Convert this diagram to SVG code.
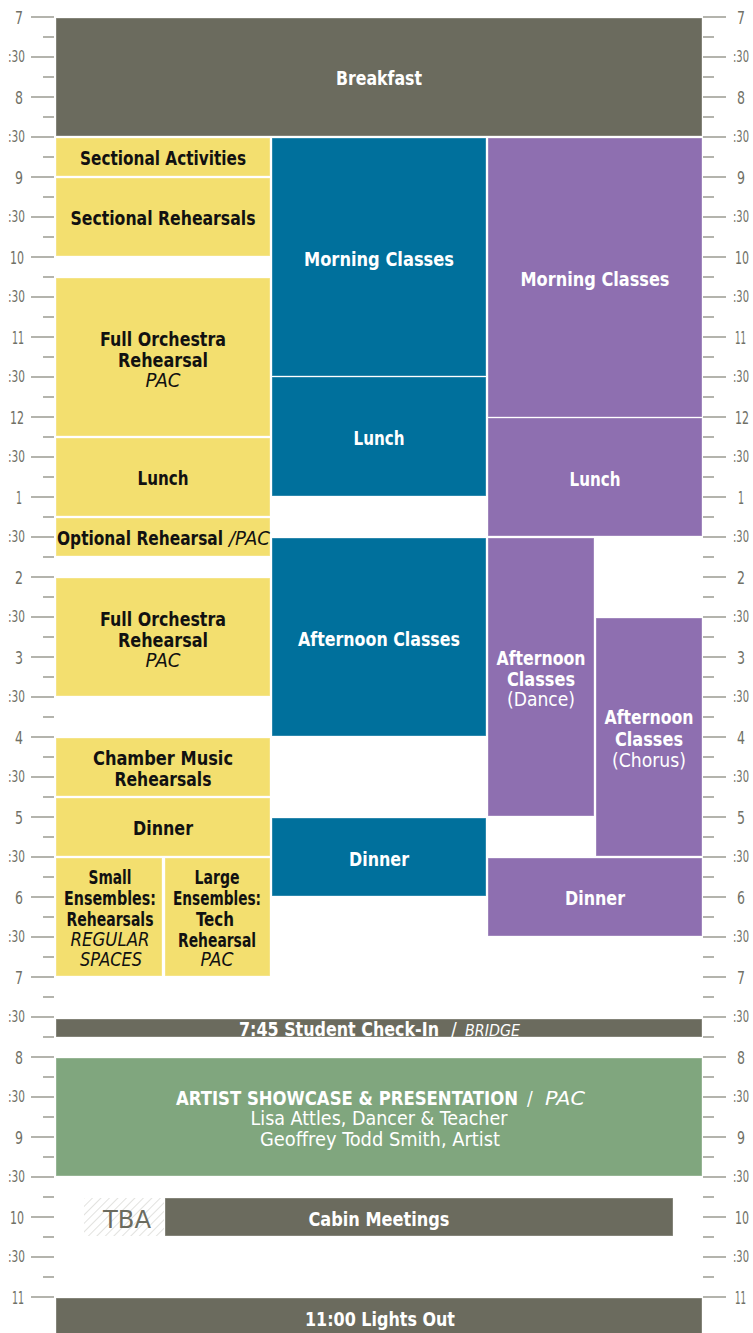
<svg xmlns="http://www.w3.org/2000/svg" width="753" height="1333" viewBox="0 0 753 1333">
<style>
.ax{font-family:"Liberation Sans Narrow","DejaVu Sans Condensed","Liberation Sans",sans-serif;fill:#707066;}
.h{font-size:18px;}
.m{font-size:15px;}
.tick{stroke:#9c9c93;stroke-width:1.5;fill:none;}
.blk{stroke:#ffffff;stroke-opacity:0.35;stroke-width:1;}
.gray{fill:#6b6b5e;}
.yel{fill:#f3df6f;}
.teal{fill:#00709c;}
.pur{fill:#8e6fb0;}
.grn{fill:#80a67e;}
.t{font-family:"Liberation Sans Narrow","DejaVu Sans Condensed","Liberation Sans",sans-serif;font-weight:bold;font-size:19px;text-anchor:middle;}
.w{fill:#ffffff;}
.k{fill:#111111;}
.i{font-weight:normal;font-style:italic;}
.l{font-weight:normal;}
</style>
<defs>
<pattern id="hatch" width="6" height="6" patternUnits="userSpaceOnUse" patternTransform="rotate(45)">
<line x1="0" y1="0" x2="0" y2="6" stroke="#cfcfca" stroke-width="1.2"/>
</pattern>
</defs>
<rect x="0" y="0" width="753" height="1333" fill="#ffffff"/>
<g id="axis">
<path class="tick" d="M31 17H54M31 57H54M31 97H54M31 137H54M31 177H54M31 217H54M31 257H54M31 297H54M31 337H54M31 377H54M31 417H54M31 457H54M31 497H54M31 537H54M31 577H54M31 617H54M31 657H54M31 697H54M31 737H54M31 777H54M31 817H54M31 857H54M31 897H54M31 937H54M31 977H54M31 1017H54M31 1057H54M31 1097H54M31 1137H54M31 1177H54M31 1217H54M31 1257H54M31 1297H54"/>
<path class="tick" d="M43 37H54M43 77H54M43 117H54M43 157H54M43 197H54M43 237H54M43 277H54M43 317H54M43 357H54M43 397H54M43 437H54M43 477H54M43 517H54M43 557H54M43 597H54M43 637H54M43 677H54M43 717H54M43 757H54M43 797H54M43 837H54M43 877H54M43 917H54M43 957H54M43 997H54M43 1037H54M43 1077H54M43 1117H54M43 1157H54M43 1197H54M43 1237H54M43 1277H54"/>
<path class="tick" d="M703 17H726M703 57H726M703 97H726M703 137H726M703 177H726M703 217H726M703 257H726M703 297H726M703 337H726M703 377H726M703 417H726M703 457H726M703 497H726M703 537H726M703 577H726M703 617H726M703 657H726M703 697H726M703 737H726M703 777H726M703 817H726M703 857H726M703 897H726M703 937H726M703 977H726M703 1017H726M703 1057H726M703 1097H726M703 1137H726M703 1177H726M703 1217H726M703 1257H726M703 1297H726"/>
<path class="tick" d="M703 37H714M703 77H714M703 117H714M703 157H714M703 197H714M703 237H714M703 277H714M703 317H714M703 357H714M703 397H714M703 437H714M703 477H714M703 517H714M703 557H714M703 597H714M703 637H714M703 677H714M703 717H714M703 757H714M703 797H714M703 837H714M703 877H714M703 917H714M703 957H714M703 997H714M703 1037H714M703 1077H714M703 1117H714M703 1157H714M703 1197H714M703 1237H714M703 1277H714"/>
<g class="ax" text-anchor="end">
<text class="h" x="23" y="24" textLength="8" lengthAdjust="spacingAndGlyphs">7</text><text class="m" x="25" y="62" textLength="17" lengthAdjust="spacingAndGlyphs">:30</text>
<text class="h" x="23" y="104" textLength="8" lengthAdjust="spacingAndGlyphs">8</text><text class="m" x="25" y="142" textLength="17" lengthAdjust="spacingAndGlyphs">:30</text>
<text class="h" x="23" y="184" textLength="8" lengthAdjust="spacingAndGlyphs">9</text><text class="m" x="25" y="222" textLength="17" lengthAdjust="spacingAndGlyphs">:30</text>
<text class="h" x="24" y="264" textLength="14" lengthAdjust="spacingAndGlyphs">10</text><text class="m" x="25" y="302" textLength="17" lengthAdjust="spacingAndGlyphs">:30</text>
<text class="h" x="24" y="344" textLength="12" lengthAdjust="spacingAndGlyphs">11</text><text class="m" x="25" y="382" textLength="17" lengthAdjust="spacingAndGlyphs">:30</text>
<text class="h" x="24" y="424" textLength="14" lengthAdjust="spacingAndGlyphs">12</text><text class="m" x="25" y="462" textLength="17" lengthAdjust="spacingAndGlyphs">:30</text>
<text class="h" x="22" y="504" textLength="6" lengthAdjust="spacingAndGlyphs">1</text><text class="m" x="25" y="542" textLength="17" lengthAdjust="spacingAndGlyphs">:30</text>
<text class="h" x="23" y="584" textLength="8" lengthAdjust="spacingAndGlyphs">2</text><text class="m" x="25" y="622" textLength="17" lengthAdjust="spacingAndGlyphs">:30</text>
<text class="h" x="23" y="664" textLength="8" lengthAdjust="spacingAndGlyphs">3</text><text class="m" x="25" y="702" textLength="17" lengthAdjust="spacingAndGlyphs">:30</text>
<text class="h" x="23" y="744" textLength="8" lengthAdjust="spacingAndGlyphs">4</text><text class="m" x="25" y="782" textLength="17" lengthAdjust="spacingAndGlyphs">:30</text>
<text class="h" x="23" y="824" textLength="8" lengthAdjust="spacingAndGlyphs">5</text><text class="m" x="25" y="862" textLength="17" lengthAdjust="spacingAndGlyphs">:30</text>
<text class="h" x="23" y="904" textLength="8" lengthAdjust="spacingAndGlyphs">6</text><text class="m" x="25" y="942" textLength="17" lengthAdjust="spacingAndGlyphs">:30</text>
<text class="h" x="23" y="984" textLength="8" lengthAdjust="spacingAndGlyphs">7</text><text class="m" x="25" y="1022" textLength="17" lengthAdjust="spacingAndGlyphs">:30</text>
<text class="h" x="23" y="1064" textLength="8" lengthAdjust="spacingAndGlyphs">8</text><text class="m" x="25" y="1102" textLength="17" lengthAdjust="spacingAndGlyphs">:30</text>
<text class="h" x="23" y="1144" textLength="8" lengthAdjust="spacingAndGlyphs">9</text><text class="m" x="25" y="1182" textLength="17" lengthAdjust="spacingAndGlyphs">:30</text>
<text class="h" x="24" y="1224" textLength="14" lengthAdjust="spacingAndGlyphs">10</text><text class="m" x="25" y="1262" textLength="17" lengthAdjust="spacingAndGlyphs">:30</text>
<text class="h" x="24" y="1304" textLength="12" lengthAdjust="spacingAndGlyphs">11</text>
</g>
<g class="ax" text-anchor="start">
<text class="h" x="737" y="24" textLength="8" lengthAdjust="spacingAndGlyphs">7</text><text class="m" x="733" y="62" textLength="16" lengthAdjust="spacingAndGlyphs">:30</text>
<text class="h" x="737" y="104" textLength="8" lengthAdjust="spacingAndGlyphs">8</text><text class="m" x="733" y="142" textLength="16" lengthAdjust="spacingAndGlyphs">:30</text>
<text class="h" x="737" y="184" textLength="8" lengthAdjust="spacingAndGlyphs">9</text><text class="m" x="733" y="222" textLength="16" lengthAdjust="spacingAndGlyphs">:30</text>
<text class="h" x="735" y="264" textLength="14" lengthAdjust="spacingAndGlyphs">10</text><text class="m" x="733" y="302" textLength="16" lengthAdjust="spacingAndGlyphs">:30</text>
<text class="h" x="735" y="344" textLength="11" lengthAdjust="spacingAndGlyphs">11</text><text class="m" x="733" y="382" textLength="16" lengthAdjust="spacingAndGlyphs">:30</text>
<text class="h" x="735" y="424" textLength="14" lengthAdjust="spacingAndGlyphs">12</text><text class="m" x="733" y="462" textLength="16" lengthAdjust="spacingAndGlyphs">:30</text>
<text class="h" x="738" y="504" textLength="6" lengthAdjust="spacingAndGlyphs">1</text><text class="m" x="733" y="542" textLength="16" lengthAdjust="spacingAndGlyphs">:30</text>
<text class="h" x="737" y="584" textLength="8" lengthAdjust="spacingAndGlyphs">2</text><text class="m" x="733" y="622" textLength="16" lengthAdjust="spacingAndGlyphs">:30</text>
<text class="h" x="737" y="664" textLength="8" lengthAdjust="spacingAndGlyphs">3</text><text class="m" x="733" y="702" textLength="16" lengthAdjust="spacingAndGlyphs">:30</text>
<text class="h" x="737" y="744" textLength="8" lengthAdjust="spacingAndGlyphs">4</text><text class="m" x="733" y="782" textLength="16" lengthAdjust="spacingAndGlyphs">:30</text>
<text class="h" x="737" y="824" textLength="8" lengthAdjust="spacingAndGlyphs">5</text><text class="m" x="733" y="862" textLength="16" lengthAdjust="spacingAndGlyphs">:30</text>
<text class="h" x="737" y="904" textLength="8" lengthAdjust="spacingAndGlyphs">6</text><text class="m" x="733" y="942" textLength="16" lengthAdjust="spacingAndGlyphs">:30</text>
<text class="h" x="737" y="984" textLength="8" lengthAdjust="spacingAndGlyphs">7</text><text class="m" x="733" y="1022" textLength="16" lengthAdjust="spacingAndGlyphs">:30</text>
<text class="h" x="737" y="1064" textLength="8" lengthAdjust="spacingAndGlyphs">8</text><text class="m" x="733" y="1102" textLength="16" lengthAdjust="spacingAndGlyphs">:30</text>
<text class="h" x="737" y="1144" textLength="8" lengthAdjust="spacingAndGlyphs">9</text><text class="m" x="733" y="1182" textLength="16" lengthAdjust="spacingAndGlyphs">:30</text>
<text class="h" x="735" y="1224" textLength="14" lengthAdjust="spacingAndGlyphs">10</text><text class="m" x="733" y="1262" textLength="16" lengthAdjust="spacingAndGlyphs">:30</text>
<text class="h" x="735" y="1304" textLength="11" lengthAdjust="spacingAndGlyphs">11</text>
</g>
</g>
<g id="connectors"></g>
<g id="breakfast"><rect class="blk gray" x="56" y="18" width="646" height="118"/><text class="t w" x="379" y="85" textLength="86" lengthAdjust="spacingAndGlyphs">Breakfast</text></g>
<g id="y-sectional-activities"><rect class="blk yel" x="56" y="138" width="214" height="38"/><text class="t k" x="163" y="165" textLength="166" lengthAdjust="spacingAndGlyphs">Sectional Activities</text></g>
<g id="y-sectional-rehearsals"><rect class="blk yel" x="56" y="178" width="214" height="78"/><text class="t k" x="163" y="225" textLength="185" lengthAdjust="spacingAndGlyphs">Sectional Rehearsals</text></g>
<g id="y-full-orchestra-1"><rect class="blk yel" x="56" y="278" width="214" height="158"/>
<text class="t k" x="163" y="346" textLength="126" lengthAdjust="spacingAndGlyphs">Full Orchestra</text>
<text class="t k" x="163" y="367" textLength="90" lengthAdjust="spacingAndGlyphs">Rehearsal</text>
<text class="t k i" x="163" y="387" textLength="35" lengthAdjust="spacingAndGlyphs">PAC</text></g>
<g id="y-lunch"><rect class="blk yel" x="56" y="438" width="214" height="78"/><text class="t k" x="163" y="485" textLength="51" lengthAdjust="spacingAndGlyphs">Lunch</text></g>
<g id="y-optional"><rect class="blk yel" x="56" y="518" width="214" height="38"/>
<text class="t k" y="545" style="text-anchor:start"><tspan x="57" textLength="166" lengthAdjust="spacingAndGlyphs">Optional Rehearsal</tspan><tspan class="i" x="229" textLength="41" lengthAdjust="spacingAndGlyphs">/PAC</tspan></text></g>
<g id="y-full-orchestra-2"><rect class="blk yel" x="56" y="578" width="214" height="118"/>
<text class="t k" x="163" y="626" textLength="126" lengthAdjust="spacingAndGlyphs">Full Orchestra</text>
<text class="t k" x="163" y="647" textLength="90" lengthAdjust="spacingAndGlyphs">Rehearsal</text>
<text class="t k i" x="163" y="667" textLength="35" lengthAdjust="spacingAndGlyphs">PAC</text></g>
<g id="y-chamber"><rect class="blk yel" x="56" y="738" width="214" height="58"/>
<text class="t k" x="163" y="765" textLength="140" lengthAdjust="spacingAndGlyphs">Chamber Music</text>
<text class="t k" x="163" y="786" textLength="97" lengthAdjust="spacingAndGlyphs">Rehearsals</text></g>
<g id="y-dinner"><rect class="blk yel" x="56" y="798" width="214" height="58"/><text class="t k" x="163" y="835" textLength="60" lengthAdjust="spacingAndGlyphs">Dinner</text></g>
<g id="y-small-ensembles"><rect class="blk yel" x="56" y="858" width="106" height="118"/>
<text class="t k" x="110" y="884" textLength="43" lengthAdjust="spacingAndGlyphs">Small</text>
<text class="t k" x="110" y="905" textLength="92" lengthAdjust="spacingAndGlyphs">Ensembles:</text>
<text class="t k" x="110" y="926" textLength="87" lengthAdjust="spacingAndGlyphs">Rehearsals</text>
<text class="t k i" x="110" y="946" textLength="79" lengthAdjust="spacingAndGlyphs">REGULAR</text>
<text class="t k i" x="111" y="966" textLength="62" lengthAdjust="spacingAndGlyphs">SPACES</text></g>
<g id="y-large-ensembles"><rect class="blk yel" x="165" y="858" width="105" height="118"/>
<text class="t k" x="217" y="884" textLength="45" lengthAdjust="spacingAndGlyphs">Large</text>
<text class="t k" x="217" y="905" textLength="88" lengthAdjust="spacingAndGlyphs">Ensembles:</text>
<text class="t k" x="215" y="926" textLength="38" lengthAdjust="spacingAndGlyphs">Tech</text>
<text class="t k" x="217" y="947" textLength="78" lengthAdjust="spacingAndGlyphs">Rehearsal</text>
<text class="t k i" x="217" y="966" textLength="33" lengthAdjust="spacingAndGlyphs">PAC</text></g>
<g id="t-morning"><rect class="blk teal" x="272" y="138" width="214" height="238"/><text class="t w" x="379" y="266" textLength="150" lengthAdjust="spacingAndGlyphs">Morning Classes</text></g>
<g id="t-lunch"><rect class="blk teal" x="272" y="377" width="214" height="119"/><text class="t w" x="379" y="445" textLength="51" lengthAdjust="spacingAndGlyphs">Lunch</text></g>
<g id="t-afternoon"><rect class="blk teal" x="272" y="538" width="214" height="198"/><text class="t w" x="379" y="646" textLength="162" lengthAdjust="spacingAndGlyphs">Afternoon Classes</text></g>
<g id="t-dinner"><rect class="blk teal" x="272" y="818" width="214" height="78"/><text class="t w" x="379" y="866" textLength="60" lengthAdjust="spacingAndGlyphs">Dinner</text></g>
<g id="p-morning"><rect class="blk pur" x="488" y="138" width="214" height="279"/><text class="t w" x="595" y="286" textLength="149" lengthAdjust="spacingAndGlyphs">Morning Classes</text></g>
<g id="p-lunch"><rect class="blk pur" x="488" y="418" width="214" height="118"/><text class="t w" x="595" y="486" textLength="51" lengthAdjust="spacingAndGlyphs">Lunch</text></g>
<g id="p-dance"><rect class="blk pur" x="488" y="538" width="106" height="278"/>
<text class="t w" x="541" y="665" textLength="89" lengthAdjust="spacingAndGlyphs">Afternoon</text>
<text class="t w" x="541" y="686" textLength="68" lengthAdjust="spacingAndGlyphs">Classes</text>
<text class="t w l" x="541" y="706" textLength="68" lengthAdjust="spacingAndGlyphs">(Dance)</text></g>
<g id="p-chorus"><rect class="blk pur" x="596" y="618" width="106" height="238"/>
<text class="t w" x="649" y="724" textLength="89" lengthAdjust="spacingAndGlyphs">Afternoon</text>
<text class="t w" x="649" y="746" textLength="68" lengthAdjust="spacingAndGlyphs">Classes</text>
<text class="t w l" x="649" y="767" textLength="74" lengthAdjust="spacingAndGlyphs">(Chorus)</text></g>
<g id="p-dinner"><rect class="blk pur" x="488" y="858" width="214" height="78"/><text class="t w" x="595" y="905" textLength="60" lengthAdjust="spacingAndGlyphs">Dinner</text></g>
<g id="check-in"><rect class="blk gray" x="56" y="1019" width="646" height="18"/>
<text class="t w" y="1036" style="text-anchor:start"><tspan x="239" textLength="200" lengthAdjust="spacingAndGlyphs">7:45 Student Check-In</tspan><tspan class="l" x="451">/</tspan><tspan class="i" x="465" style="font-size:15px" textLength="55" lengthAdjust="spacingAndGlyphs">BRIDGE</tspan></text>
<rect x="56" y="1038" width="646" height="12" fill="#ffffff"/></g>
<g id="showcase"><rect class="blk grn" x="56" y="1058" width="646" height="118"/>
<text class="t w" y="1105" style="text-anchor:start"><tspan x="176" textLength="342" lengthAdjust="spacingAndGlyphs">ARTIST SHOWCASE &amp; PRESENTATION</tspan><tspan class="l" x="527">/</tspan><tspan class="i" x="545" textLength="40" lengthAdjust="spacingAndGlyphs">PAC</tspan></text>
<text class="t w l" x="379" y="1125" textLength="257" lengthAdjust="spacingAndGlyphs">Lisa Attles, Dancer &amp; Teacher</text>
<text class="t w l" x="380" y="1146" textLength="240" lengthAdjust="spacingAndGlyphs">Geoffrey Todd Smith, Artist</text></g>
<g id="tba"><rect x="84" y="1198" width="80" height="38" fill="url(#hatch)"/>
<text class="t l" x="127" y="1228" style="font-size:25px;fill:#6b6b5e" textLength="48" lengthAdjust="spacingAndGlyphs">TBA</text></g>
<g id="cabin"><rect class="blk gray" x="165" y="1198" width="508" height="38"/><text class="t w" x="379" y="1226" textLength="141" lengthAdjust="spacingAndGlyphs">Cabin Meetings</text></g>
<g id="lights-out"><rect class="blk gray" x="56" y="1298" width="646" height="40"/><text class="t w" x="380" y="1326" textLength="150" lengthAdjust="spacingAndGlyphs">11:00 Lights Out</text></g>
</svg>
